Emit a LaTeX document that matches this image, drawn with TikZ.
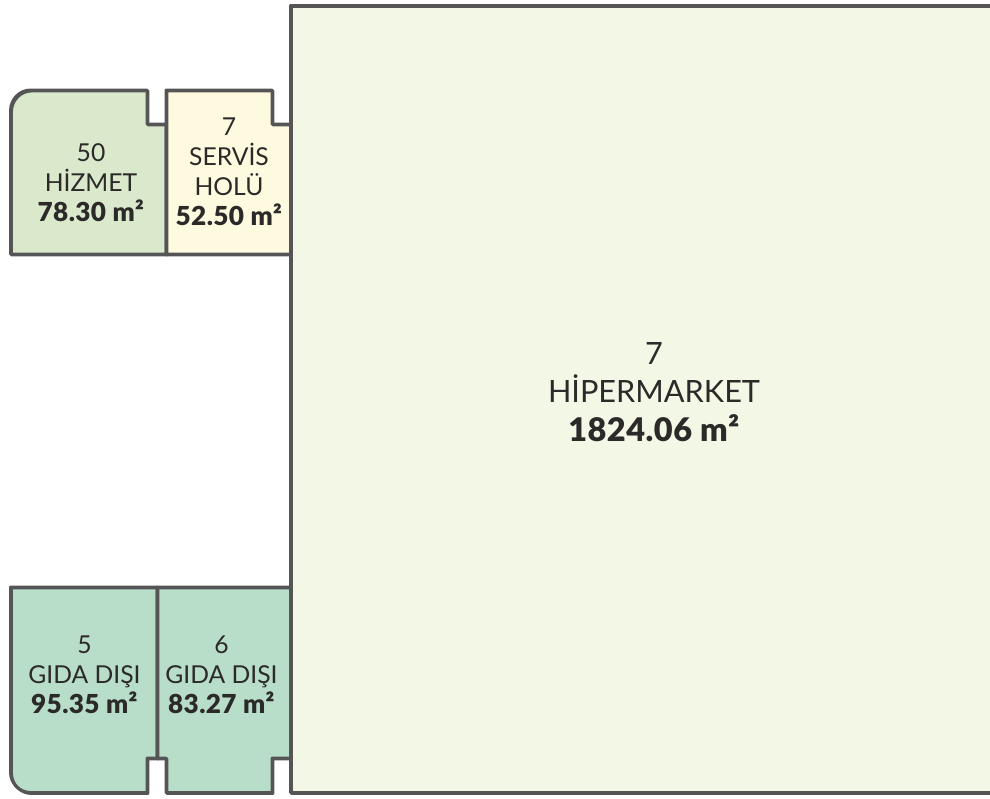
\documentclass[tikz,border=0pt]{standalone}
\usepackage{fontspec}
\setmainfont{Lato}[BoldFont={Lato Black}, BoldFeatures={Scale=1.06, LetterSpace=1.5}]
\definecolor{wallgray}{HTML}{555555}
\definecolor{textgray}{HTML}{2B2A29}
\definecolor{marketfill}{HTML}{F3F7E6}
\definecolor{serviceFill}{HTML}{DAE9CC}
\definecolor{hallfill}{HTML}{FEFADF}
\definecolor{foodfill}{HTML}{B8DEC9}
\tikzset{
    room/.style={draw=wallgray, line width=2.2pt, line join=miter, rounded corners=0.4pt,
        postaction={draw=wallgray, transform canvas={shift={(0.75pt, -0.75pt)}}}},
    small label/.style={align=center, text=textgray, font=\fontsize{18.5}{22.5}\selectfont},
    big label/.style={align=center, text=textgray, font=\fontsize{23}{29}\selectfont}
}
\begin{document}
\begin{tikzpicture}[x=0.75pt, y=-0.75pt]
                \useasboundingbox (0, 0) rectangle (990, 799);
                \draw [room, fill=marketfill] (990, 5.5) -- (290.5, 5.5) -- (290.5, 792.5) -- (990, 792.5);
            
                \draw [room, fill=serviceFill] (166, 124) -- (147, 124) -- (147, 90) -- (31, 90) to [out=180, in=90] (10.5, 111) -- (10.5, 254) -- (166, 254) -- cycle;
                \draw [room, fill=hallfill] (166, 90) -- (272, 90) -- (272, 124) -- (290.5, 124) -- (290.5, 254) -- (166, 254) -- cycle;
            
                \draw [room, fill=foodfill] (157, 587) -- (10.5, 587) -- (10.5, 772) to [out=-90, in=180] (31, 792.5) -- (147, 792.5) -- (147, 758) -- (157, 758) -- cycle;
                \draw [room, fill=foodfill] (157, 587) -- (290.5, 587) -- (290.5, 758) -- (272, 758) -- (272, 792.5) -- (166, 792.5) -- (166, 758) -- (157, 758) -- cycle;
            
                \node (market) at (654, 392) [big label] {7\\HİPERMARKET\\\textbf{1824.06 m²}};
                \node (service) at (91, 183) [small label] {50\\HİZMET\\\textbf{78.30 m²}};
                \node (hall) at (229, 172) [small label] {7\\SERVİS\\HOLÜ\\\textbf{52.50 m²}};
                \node (shopfive) at (84.5, 675) [small label] {5\\GIDA DIŞI\\\textbf{95.35 m²}};
                \node (shopsix) at (221.5, 675) [small label] {6\\GIDA DIŞI\\\textbf{83.27 m²}};
            \end{tikzpicture}
\end{document}
